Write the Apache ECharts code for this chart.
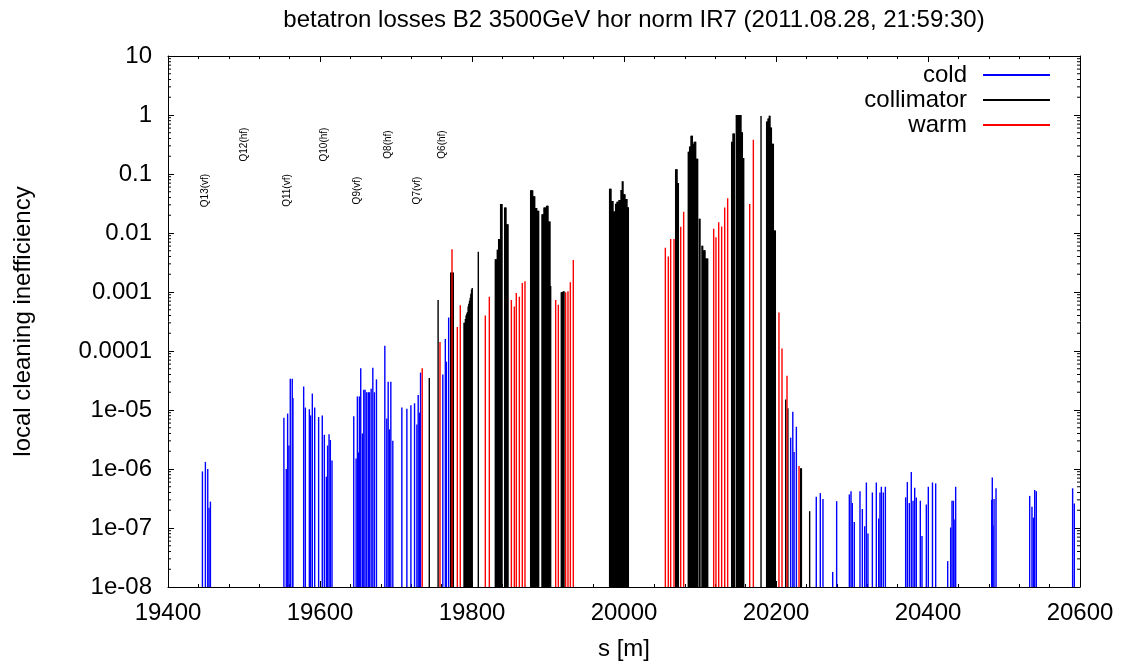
<!DOCTYPE html>
<html><head><meta charset="utf-8">
<script src="https://cdn.jsdelivr.net/npm/echarts@6/dist/echarts.min.js"></script>
<style>html,body{margin:0;padding:0;background:#fff}#c{width:1131px;height:671px}</style>
</head><body><div id="c"></div>
<script>
const titleText = 'betatron losses B2 3500GeV hor norm IR7 (2011.08.28, 21:59:30)';
const xTitle = 's [m]';
const yTitle = 'local cleaning inefficiency';
const seriesNames = ['cold', 'collimator', 'warm'];
const xMin = 19400, xMax = 20600, xStep = 200;
const yMin = 1e-8, yMax = 10;

// [s (m), local cleaning inefficiency]
const cold = [
 [19445.3,9.1e-7],[19449.2,1.32e-6],[19452.3,1.0e-6],[19454.0,2.2e-7],[19455.8,2.8e-7],
 [19552.5,7.4e-6],[19555.6,1.0e-6],[19557.4,8.7e-6],[19559.1,2.5e-6],[19560.9,3.4e-5],[19563.5,3.4e-5],[19564.4,1.6e-5],
 [19578.5,2.5e-5],[19580.7,1.1e-5],[19586.0,1.03e-5],[19587.7,8.1e-6],[19589.9,1.9e-5],[19593.0,1.1e-5],[19598.2,7.6e-6],
 [19603.0,8.1e-6],[19605.7,3.8e-6],[19608.4,7.4e-7],[19610.0,2.5e-6],[19611.9,3.9e-6],[19613.6,3.1e-6],[19615.8,1.4e-6],
 [19644.4,7.8e-6],[19647.5,1.5e-6],[19649.2,1.7e-5],[19650.5,1.9e-6],[19651.9,1.7e-5],[19653.6,5.1e-5],[19655.8,4.0e-6],
 [19657.6,2.2e-5],[19659.3,2.2e-5],[19661.5,2.0e-5],[19663.7,2.0e-5],[19665.1,2.0e-5],[19667.3,2.3e-5],[19669.5,5.2e-5],
 [19671.6,2.0e-5],[19674.3,3.3e-5],
 [19685.3,1.23e-4],[19687.9,7.2e-6],[19689.7,3.0e-5],[19691.4,4.7e-6],[19693.2,3.0e-5],[19695.8,3.0e-6],
 [19707.7,1.1e-5],[19714.3,1.05e-5],[19719.6,1.2e-5],[19724.4,1.3e-5],[19727.5,5.7e-6],[19729.2,1.8e-5],[19731.0,9.0e-6],[19732.3,4.3e-5],
 [19761.6,4.0e-5],[19764.9,1.6e-4],[19766.3,6.6e-5],[19769.3,3.7e-4],
 [20219.3,3.4e-6],[20222.1,9.3e-6],[20223.8,1.95e-6],[20226.8,5.2e-6],
 [20253.0,3.4e-7],[20258.3,3.9e-7],[20261.8,3.1e-7],[20274.6,1.8e-8],[20279.8,2.85e-7],
 [20296.5,3.7e-7],[20298.7,4.2e-7],[20300.4,2.65e-7],[20303.0,1.27e-7],[20310.5,4.2e-7],[20313.6,2.1e-7],[20316.7,1.07e-7],
 [20318.9,5.9e-7],[20321.0,8.1e-8],[20326.8,4.0e-7],[20332.0,5.9e-7],[20335.1,1.45e-7],[20336.8,4.0e-7],[20338.6,5.0e-7],
 [20341.2,4.0e-7],[20343.9,5.0e-7],
 [20370.6,3.3e-7],[20372.8,6.0e-7],[20375.4,2.65e-7],[20378.0,8.9e-7],[20380.3,2.9e-7],[20382.5,4.8e-7],[20384.6,3.3e-7],
 [20389.9,2.9e-7],[20392.1,7.3e-8],[20397.8,2.5e-7],[20400.4,5.0e-7],[20405.9,5.9e-7],[20410.1,5.7e-7],
 [20425.9,2.75e-8],[20429.8,1.02e-7],[20431.6,2.9e-7],[20433.4,2.9e-7],[20434.3,1.4e-7],[20436.4,5.0e-7],
 [20483.8,3.0e-7],[20484.6,7.2e-7],[20485.5,1.1e-7],[20486.9,3.1e-7],[20489.5,4.7e-7],
 [20533.8,3.5e-7],[20536.8,2.3e-7],[20538.6,1.5e-7],[20540.4,4.4e-7],[20542.5,4.2e-7],
 [20590.3,4.7e-7],[20592.5,2.6e-7]
];
const collimator = [
 [19743.8,3.5e-5],[19755.4,7.3e-4],
 [19772.0,2.15e-3],[19773.0,2.15e-3],[19774.5,2.15e-3],[19775.4,2.15e-3],
 [19789.5,3.0e-4],[19790.4,3.0e-4],[19791.3,3.5e-4],[19792.2,4.0e-4],[19793.1,4.3e-4],[19794.0,4.6e-4],[19794.9,5.7e-4],
 [19795.8,6.3e-4],[19796.7,7.1e-4],[19797.6,8.0e-4],[19798.5,9.3e-4],[19799.4,1.1e-3],[19800.3,1.17e-3],
 [19808.3,4.8e-3],
 [19830.7,3.6e-3],[19831.6,3.6e-3],[19832.5,3.6e-3],[19833.3,5.2e-3],[19834.2,5.2e-3],[19835.1,7.9e-3],[19836.0,7.9e-3],
 [19836.8,7.9e-3],[19837.7,0.031],[19838.6,0.031],[19839.5,0.031],
 [19843.0,0.027],[19843.9,0.027],[19844.7,0.027],[19845.6,0.0141],[19846.5,0.0141],[19847.4,0.0141],
 [19877.2,0.053],[19878.1,0.053],[19878.9,0.053],[19879.8,0.053],[19880.7,0.042],[19881.6,0.042],[19882.5,0.042],
 [19883.3,0.0266],[19884.2,0.0266],[19885.1,0.0266],[19886.0,0.0238],[19886.8,0.0238],[19887.7,0.0238],
 [19892.1,0.0207],[19893.0,0.0207],[19893.9,0.0207],[19894.7,0.027],[19895.6,0.027],[19896.5,0.027],[19897.4,0.027],
 [19898.2,0.029],[19899.1,0.029],[19900.0,0.029],[19900.9,0.0156],[19901.8,0.0156],[19902.6,0.0156],[19903.5,1.27e-3],
 [19917.5,9.9e-4],[19918.4,9.9e-4],[19919.3,1.0e-3],[19920.2,1.03e-3],[19921.1,1.03e-3],
 [19981.1,0.0565],[19982.0,0.0565],[19982.9,0.0565],[19983.8,0.035],[19984.6,0.035],[19985.5,0.035],[19986.4,0.0231],
 [19987.3,0.0231],[19988.2,0.0231],[19989.0,0.0314],[19989.9,0.0314],[19990.8,0.0337],[19991.7,0.0337],[19992.5,0.0337],
 [19993.4,0.0361],[19994.3,0.0361],[19995.2,0.0361],[19996.1,0.0533],[19996.9,0.0533],[19997.8,0.0757],[19998.7,0.0757],
 [19999.6,0.0452],[20000.4,0.0452],[20001.3,0.0452],[20002.2,0.0377],[20003.1,0.0377],[20003.9,0.0377],[20004.8,0.0273],[20005.7,0.0273],
 [20068.0,0.12],[20068.9,0.12],[20069.8,0.12],[20070.6,0.0705],[20071.5,0.0705],
 [20084.6,0.238],[20085.5,0.238],[20086.4,0.293],[20087.3,0.293],[20088.2,0.445],[20089.0,0.445],[20089.9,0.445],
 [20090.8,0.327],[20091.7,0.327],[20092.5,0.351],[20093.4,0.351],[20094.3,0.351],[20095.2,0.182],[20096.1,0.182],[20096.9,0.182],
 [20099.1,0.0175],[20100.0,0.0175],[20102.6,6.1e-3],[20103.5,6.1e-3],[20104.8,5.1e-3],[20105.7,5.1e-3],[20106.6,5.1e-3],
 [20107.5,3.7e-3],[20108.3,3.7e-3],[20109.2,3.7e-3],[20110.1,3.7e-3],
 [20141.7,0.351],[20142.5,0.351],[20143.4,0.484],[20144.3,0.484],[20145.2,0.484],[20147.8,1.0],[20148.7,1.0],[20149.6,1.0],
 [20150.4,1.0],[20151.3,1.0],[20152.2,1.0],[20153.1,1.0],[20153.9,1.0],[20154.8,0.512],[20155.7,0.512],[20156.6,0.187],[20157.5,0.187],
 [20180.3,0.96],
 [20187.7,0.778],[20188.6,0.778],[20189.5,0.87],[20190.4,0.87],[20191.2,0.97],[20192.1,0.97],[20193.0,0.614],[20193.9,0.614],
 [20194.7,0.327],[20195.6,0.327],[20196.5,0.327],[20197.4,0.011],[20198.2,0.011],[20199.1,0.011],
 [20212.8,1.5e-5],[20215.6,1.07e-5],[20232.5,1.03e-6],[20233.4,1.03e-6],[20244.3,1.93e-7]
];
const warm = [
 [19734.5,5.1e-5],[19757.9,1.42e-4],[19773.7,5.3e-3],[19780.7,2.55e-4],[19784.6,5.97e-4],[19817.5,4.0e-4],[19822.8,8.3e-4],
 [19851.8,7.3e-4],[19855.7,5.7e-4],[19858.3,9.6e-4],[19862.3,8.3e-4],[19866.2,1.42e-3],[19869.7,1.52e-3],
 [19910.1,7.3e-4],[19913.6,6.1e-4],[19923.2,9.9e-4],[19926.3,1.03e-3],[19929.4,1.46e-3],[19933.3,3.5e-3],
 [20054.4,5.6e-3],[20058.3,4.0e-3],[20061.4,7.9e-3],[20065.8,7.9e-3],[20074.6,0.0128],[20078.5,0.023],
 [20118.0,0.0118],[20121.0,8.45e-3],[20124.6,0.0152],[20128.5,0.0129],[20132.5,0.027],[20136.4,0.039],
 [20165.4,0.031],[20170.2,0.38],[20203.9,4.5e-4],[20207.9,1.1e-4],[20214.5,3.8e-5],[20230.3,1.12e-6]
];
const quadNames = ['Q13(vf)','Q12(hf)','Q11(vf)','Q10(hf)','Q9(vf)','Q8(hf)','Q7(vf)','Q6(hf)'];
const quadPos = [19448.7,19500.4,19556.9,19605.3,19649.1,19690.0,19728.6,19761.4];

const FONT = "'Liberation Sans', Arial, sans-serif";
const colors = {cold:'#0000ff', collimator:'#000000', warm:'#ff0000'};
const VF_LEVEL = 0.0525, HF_LEVEL = 0.316;

function impulse(color) {
  return function (params, api) {
    const s = api.value(0), v = api.value(1);
    const top = api.coord([s, v]);
    const base = api.coord([s, yMin]);
    return {type:'line', shape:{x1:top[0], y1:base[1], x2:top[0], y2:top[1]},
            style:{stroke:color, lineWidth:1.4}};
  };
}
function yLabel(v) {
  const e = Math.round(Math.log10(v));
  if (e >= -4) return e >= 0 ? String(Math.pow(10, e)) : '0.' + '0'.repeat(-e - 1) + '1';
  return '1e-' + (e > -10 ? '0' : '') + (-e);
}
function xLabel(v) { return String(Math.round(v)); }
const minorVals = [];
for (let e = -8; e < 1; e++) for (let m = 2; m <= 9; m++) minorVals.push([xMin, m * Math.pow(10, e)]);

const chart = echarts.init(document.getElementById('c'), null, {renderer:'canvas'});
const axisCommon = {
  axisLine:{show:true, onZero:false, lineStyle:{color:'#000', width:1}},
  axisTick:{show:true, inside:true, length:6, lineStyle:{color:'#000', width:1}},
  splitLine:{show:false}
};
chart.setOption({
  backgroundColor:'#fff',
  animation:false,
  title:{text:titleText, left:634, top:8, padding:0, textAlign:'center',
         textStyle:{fontSize:24, fontWeight:'normal', fontFamily:FONT, color:'#000'}},
  legend:{orient:'vertical', right:81, top:63, padding:0, align:'right', itemWidth:67, itemHeight:2, itemGap:1,
          selectedMode:false, icon:'rect',
          data:seriesNames.map(n => ({name:n, icon:'rect', itemStyle:{color:colors[n]}})),
          textStyle:{fontSize:24, fontFamily:FONT, color:'#000', lineHeight:24, padding:[0,11,0,0]}},
  grid:{left:168, right:51, top:56, bottom:84, containLabel:false, outerBoundsMode:'none'},
  xAxis:[
    Object.assign({type:'value', min:xMin, max:xMax, interval:xStep, position:'bottom',
      minorTick:{show:true, splitNumber:5, length:3, lineStyle:{color:'#000'}},
      axisLabel:{fontSize:24, fontFamily:FONT, color:'#000', margin:14, formatter:xLabel},
      name:xTitle, nameLocation:'middle', nameGap:50,
      nameTextStyle:{fontSize:24, fontFamily:FONT, color:'#000'}}, axisCommon),
    Object.assign({type:'value', min:xMin, max:xMax, interval:xStep, position:'top',
      minorTick:{show:true, splitNumber:5, length:3, lineStyle:{color:'#000'}},
      axisLabel:{show:false}}, axisCommon)
  ],
  yAxis:[
    Object.assign({type:'log', logBase:10, min:yMin, max:yMax, position:'left',
      axisLabel:{fontSize:24, fontFamily:FONT, color:'#000', margin:16, formatter:yLabel},
      name:yTitle, nameLocation:'middle', nameGap:133, nameRotate:90,
      nameTextStyle:{fontSize:24, fontFamily:FONT, color:'#000'}}, axisCommon),
    Object.assign({type:'log', logBase:10, min:yMin, max:yMax, position:'right',
      axisLabel:{show:false}}, axisCommon)
  ],
  series:[
    {name:'cold', type:'custom', data:cold, renderItem:impulse(colors.cold), itemStyle:{color:colors.cold}, clip:true, silent:true},
    {name:'collimator', type:'custom', data:collimator, renderItem:impulse(colors.collimator), itemStyle:{color:colors.collimator}, clip:true, silent:true},
    {name:'warm', type:'custom', data:warm, renderItem:impulse(colors.warm), itemStyle:{color:colors.warm}, clip:true, silent:true},
    {name:'minorY', type:'custom', data:minorVals, silent:true, clip:false,
      renderItem:function (params, api) {
        const v = api.value(1);
        const p = api.coord([xMin, v]), q = api.coord([xMax, v]);
        return {type:'group', children:[
          {type:'line', shape:{x1:p[0], y1:p[1], x2:p[0]+3, y2:p[1]}, style:{stroke:'#000', lineWidth:1}},
          {type:'line', shape:{x1:q[0], y1:q[1], x2:q[0]-3, y2:q[1]}, style:{stroke:'#000', lineWidth:1}}
        ]};
      }},
    {name:'quads', type:'custom', silent:true, clip:false,
      data:quadPos.map((s, i) => [s, quadNames[i].indexOf('vf') >= 0 ? VF_LEVEL : HF_LEVEL]),
      renderItem:function (params, api) {
        const p = api.coord([api.value(0), api.value(1)]);
        return {type:'text', x:p[0], y:p[1], rotation:Math.PI/2,
          style:{text:quadNames[params.dataIndex], fontSize:10, fontFamily:FONT, fill:'#000',
                 align:'center', verticalAlign:'middle'}};
      }}
  ]
});
</script></body></html>
